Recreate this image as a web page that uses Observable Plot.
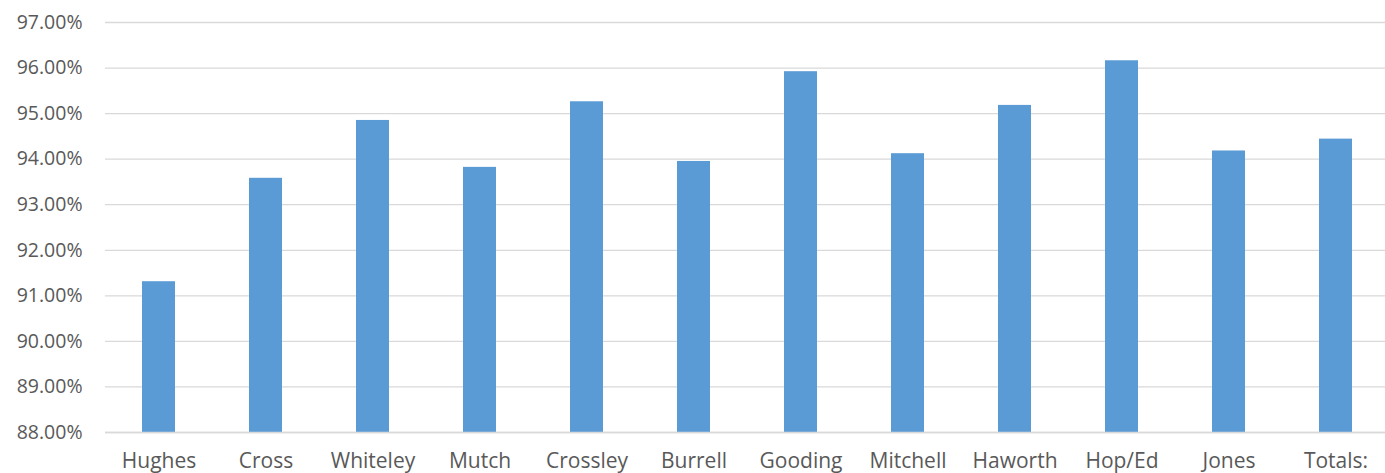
<!DOCTYPE html>
<html>
<head>
<meta charset="utf-8">
<script src="https://cdn.jsdelivr.net/npm/d3@7"></script>
<script src="https://cdn.jsdelivr.net/npm/@observablehq/plot@0.6"></script>
<style>
  html, body { margin: 0; padding: 0; background: #fff; }
  #chart svg { display: block; }
</style>
</head>
<body>
<div id="chart"></div>
<script>
const categories = ["Hughes", "Cross", "Whiteley", "Mutch", "Crossley", "Burrell", "Gooding", "Mitchell", "Haworth", "Hop/Ed", "Jones", "Totals:"];
const values = [0.9131, 0.9358, 0.9485, 0.9382, 0.9526, 0.9395, 0.9592, 0.9412, 0.9518, 0.9616, 0.9418, 0.9444];
const yTicks = [0.88, 0.89, 0.90, 0.91, 0.92, 0.93, 0.94, 0.95, 0.96, 0.97];

const data = categories.map((c, i) => ({ name: c, value: values[i] }));

const chart = Plot.plot({
  width: 1385,
  height: 473,
  marginTop: 22,
  marginBottom: 41,
  marginLeft: 105,
  marginRight: 0,
  style: { fontFamily: "'Open Sans', sans-serif", fontSize: "19px", color: "#595959", background: "#fff" },
  x: { domain: categories, range: [105, 1389], paddingInner: 0.69, paddingOuter: 0.345, label: null },
  y: { domain: [0.88, 0.97], label: null },
  marks: [
    Plot.ruleY(yTicks, { stroke: "#D9D9D9", strokeWidth: 1.3 }),
    Plot.barY(data, { x: "name", y1: 0.88, y2: "value", fill: "#5B9BD5" }),
    Plot.ruleY([0.88], { stroke: "#D9D9D9", strokeWidth: 1.3 }),
    Plot.axisY({ ticks: yTicks, tickFormat: d => (d * 100).toFixed(2) + "%", tickSize: 0, tickPadding: 23, label: null, fill: "#595959", fontSize: 19.5 }),
    Plot.axisX({ tickSize: 0, tickPadding: 21, label: null, fill: "#595959", fontSize: 21 })
  ]
});

document.getElementById("chart").appendChild(chart);
</script>
</body>
</html>
